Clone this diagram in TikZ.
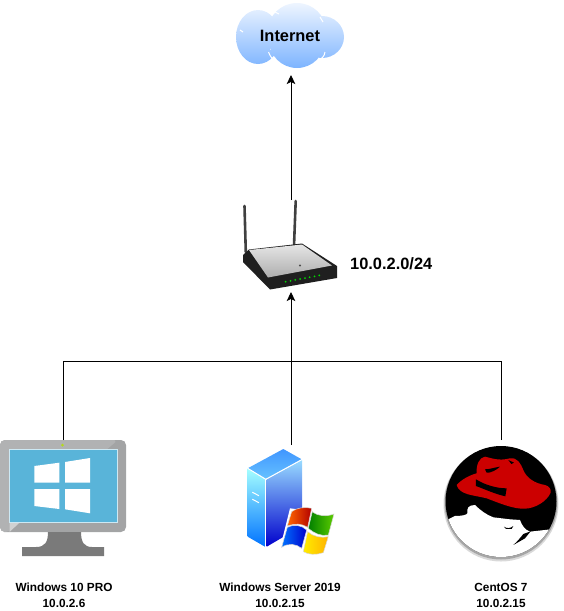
\documentclass[tikz,border=0pt]{standalone}
\usepackage{fontspec}
\setmainfont{Liberation Sans}
\usepackage{tikz}
\usetikzlibrary{arrows.meta}
\definecolor{screenblue}{HTML}{59B4D9}
\definecolor{framegray}{HTML}{A3A4A5}
\definecolor{framelight}{HTML}{B1B2B3}
\definecolor{standgray}{HTML}{7A7A7A}
\definecolor{hatred}{HTML}{CC0000}
\definecolor{cloudtop}{HTML}{EEF5FF}
\definecolor{cloudlow}{HTML}{7DB4FF}
\tikzset{
  iconbox/.style={minimum width=#1,inner sep=0pt,outer sep=0pt},
  conn/.style={black,line width=.9pt},
  tip/.style={conn,-{Stealth[length=9pt,width=8.5pt,inset=2pt]}},
  hostlabel/.style={align=center,font=\bfseries\fontsize{11.8}{16}\selectfont},
  biglabel/.style={font=\bfseries\fontsize{16.4}{18}\selectfont},
  pane/.style={fill=white,draw=none},
  flagedge/.style={draw=white!85!black,line width=.5pt}
}
\begin{document}
\begin{tikzpicture}[x=1pt,y=-1pt]
  \useasboundingbox (0,0) rectangle (563,611);
  \begin{scope}
    \clip (258,37) ellipse [x radius=22,y radius=27]
          (297,31) ellipse [x radius=29,y radius=28]
          (322,37) ellipse [x radius=22,y radius=21]
          (297,40) ellipse [x radius=28,y radius=28]
          (270,40) rectangle (320,50);
    \shade[top color=cloudtop,bottom color=cloudlow] (230,3) rectangle (350,68);
  \end{scope}
  \draw[white,line width=1pt] (268.5,52) .. controls (270,56) and (272,59) .. (276,62);
  \draw[white,line width=1pt] (325,52) .. controls (325,54) and (324,56) .. (321,59);
  \draw[white,line width=1pt] (275,12) -- (279,14);
  \draw[white,line width=1pt] (320,17) -- (323,22);
  \draw[white,line width=1pt] (240,30) -- (243,32);
  \node[iconbox=110pt,minimum height=72pt] (cloud) at (291,39) {};
  \node[biglabel] (internetlabel) at (290,35.5) {Internet};
  \node[iconbox=94pt,minimum height=92pt] (router) at (291,246) {};
  \draw[line width=2.6pt,black!75,line cap=round] (244.5,206) -- (245.8,252);
  \draw[line width=2.6pt,black!75,line cap=round] (295.7,201) -- (294,246);
  \fill[black!88] (243,255) -- (249,249.5) -- (302,243.5) -- (337,266) -- (337,278) -- (270,289.5) -- (243,262) -- cycle;
  \shade[top color=black!10,bottom color=black!32] (249,250) -- (302,244.5) -- (332,265.5) -- (268,277.5) -- cycle;
  \fill[black!70] (300,265.5) circle (1.2);
  \foreach \i in {0,...,7}
    \fill[green!85!black] (285.7+\i*4.8,281.7-\i*.9) circle (1);
  \node[biglabel,anchor=west,inner sep=0pt] (subnetlabel) at (350,264) {10.0.2.0/24};
  \fill[framegray,rounded corners=5pt] (0,440) rectangle (126,532);
  \fill[framelight,rounded corners=5pt] (0,440) -- (118,440) -- (9,532) -- (0,532) -- cycle;
  \fill[framelight!60!white] (9.5,522) -- (9.5,532) -- (20,522) -- cycle;
  \fill[screenblue] (9.5,449.5) rectangle (117,522);
  \draw[white!70!screenblue,line width=.5pt] (9.5,449.5) rectangle (117,522);
  \fill[standgray] (48,532) -- (81,532) .. controls (81,542) and (84,547) .. (92,547)
    -- (104,547) -- (104,556) -- (22,556) -- (22,547) -- (36,547) .. controls (45,547) and (48,542) .. (48,532) -- cycle;
  \fill[yellow!70!green] (62.5,445) circle (1.5);
  \fill[pane] (34.3,466) -- (59.3,462.7) -- (59.3,482.7) -- (34.3,482.7) -- cycle;
  \fill[pane] (65,462) -- (90,458) -- (90,482.7) -- (65,482.7) -- cycle;
  \fill[pane] (34.3,489) -- (59.3,489) -- (59.3,509) -- (34.3,506) -- cycle;
  \fill[pane] (65,489) -- (90,489) -- (90,513.3) -- (65,509.3) -- cycle;
  \node[iconbox=126pt,minimum height=116pt] (win10) at (63,498) {};
  \node[hostlabel] (win10label) at (64,595) {Windows 10 PRO\\10.0.2.6};
  \node[iconbox=90pt,minimum height=115pt] (winsrv) at (291,502.5) {};
  \shade[top color=cyan!45!blue!75!white,bottom color=cyan!60!blue!60!white] (283.3,449) -- (301.7,459.3) -- (266,479.3) -- (247.7,468.3) -- cycle;
  \shade[top color=cyan!35!white,bottom color=blue!55!cyan] (247.7,468.3) -- (265,479.3) -- (265,546.7) -- (247.7,536.7) -- cycle;
  \shade[top color=blue!35!cyan!40!white,bottom color=blue!80!black] (266.7,479.3) -- (302,460) -- (302,526) -- (266.7,546.7) -- cycle;
  \draw[white,line width=1pt] (247.7,468.3) -- (265.8,479.3) -- (302,459.5);
  \draw[white,line width=1pt] (265.8,479.3) -- (265.8,547);
  \draw[white,line width=1pt] (252.3,492.3) -- (259,495.7);
  \draw[white,line width=1pt] (252.3,499.3) -- (259,502.7);
  \begin{scope}[shift={(210,440)},x=.3333pt,y=-.3333pt]
    \fill[white] (240,205) -- (375,222) -- (345,345) -- (210,325) -- cycle;
    \shade[left color=orange!80!red,right color=red!70!black,flagedge] (245,215) .. controls (260,203) and (285,200) .. (305,205)
      -- (293,262) .. controls (275,250) and (255,250) .. (232,258) -- cycle;
    \shade[left color=green!50!black,right color=green!55!yellow!80!black,flagedge] (307,215) .. controls (325,230) and (350,230) .. (372,222)
      -- (355,285) .. controls (335,290) and (312,280) .. (295,265) -- cycle;
    \shade[left color=blue!55!cyan,right color=blue!80!black,flagedge] (232,262) .. controls (250,252) and (275,255) .. (290,270)
      -- (275,325) .. controls (260,312) and (235,308) .. (215,322) -- cycle;
    \shade[left color=yellow!85!orange,right color=orange!60!yellow,flagedge] (293,275) .. controls (310,290) and (335,295) .. (355,290)
      -- (340,338) .. controls (320,345) and (295,345) .. (280,335) -- cycle;
  \end{scope}
  \node[hostlabel] (winsrvlabel) at (280,595) {Windows Server 2019\\10.0.2.15};
  \node[iconbox=112pt,minimum height=123pt] (centos) at (501,501.5) {};
  \fill[black!15] (501,504) circle (57.5);
  \fill[black!35] (501,503) circle (56.5);
  \begin{scope}
    \clip (501,501.5) circle (55.5);
    \fill[black] (440,440) rectangle (565,570);
    \begin{scope}[shift={(430,430)},x=.3333pt,y=-.3333pt]
      \fill[white] (50,270) -- (75,258) .. controls (95,258) and (110,255) .. (112,250)
        .. controls (110,235) and (115,225) .. (135,225) .. controls (150,240) and (170,255) .. (190,262)
        -- (240,268) -- (270,270) .. controls (275,285) and (285,300) .. (300,305)
        -- (345,300) -- (390,295) -- (390,410) -- (40,410) -- cycle;
      \fill[black] (222,290) .. controls (230,296) and (240,296) .. (250,288) -- (245,297) -- (228,297) -- cycle;
      \fill[black] (250,345) .. controls (262,335) and (272,322) .. (280,312) -- (302,304) -- (285,325) -- cycle;
      \fill[hatred] (80,165) .. controls (95,148) and (120,135) .. (140,130)
        .. controls (138,105) and (148,82) .. (165,80) .. controls (185,84) and (205,94) .. (240,85)
        .. controls (262,82) and (272,100) .. (280,120) .. controls (290,145) and (315,160) .. (345,165)
        .. controls (358,168) and (364,178) .. (362,188) .. controls (350,215) and (315,235) .. (285,236)
        .. controls (250,238) and (205,218) .. (170,205) .. controls (130,195) and (88,195) .. (80,165) -- cycle;
      \fill[black] (138,148) .. controls (165,165) and (200,175) .. (230,175)
        -- (226,199) .. controls (195,192) and (165,178) .. (138,168) -- cycle;
      \fill[black] (165,118) .. controls (178,118) and (195,112) .. (210,110)
        .. controls (200,120) and (180,130) .. (170,128) -- cycle;
      \fill[black] (235,90) -- (252,98) -- (244,102) -- cycle;
    \end{scope}
  \end{scope}
  \node[hostlabel] (centoslabel) at (501,595) {CentOS 7\\10.0.2.15};
  \coordinate (bus) at (291,361);
  \draw[tip] (router.north) -- (cloud.south);
  \draw[tip] (winsrv.north) -- (router.south);
  \draw[conn] (win10.north) |- (bus);
  \draw[conn] (centos.north) |- (bus);
\end{tikzpicture}
\end{document}
